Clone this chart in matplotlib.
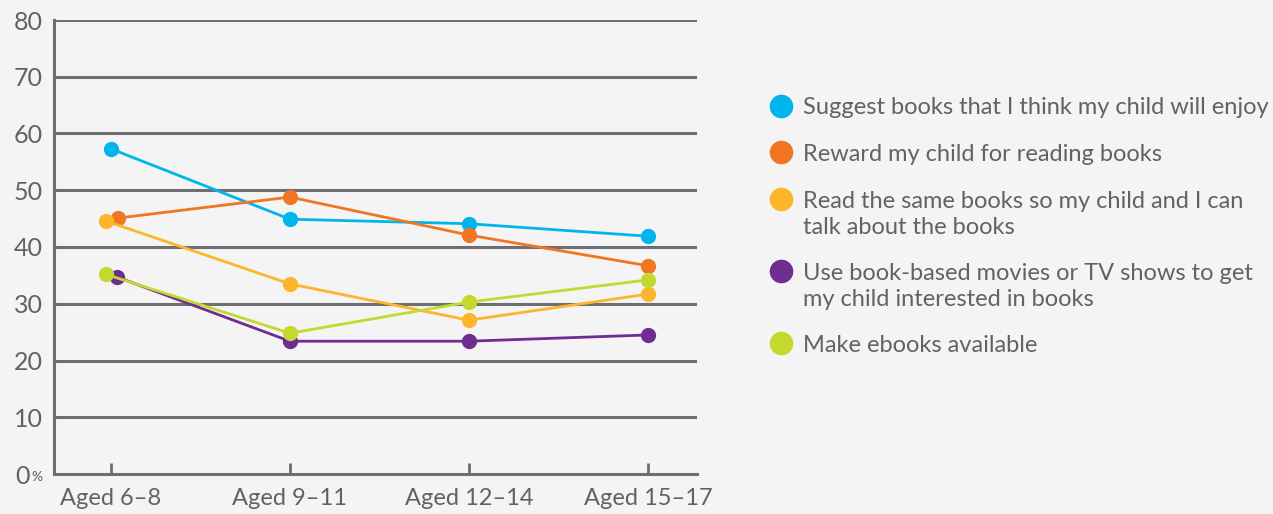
import matplotlib
matplotlib.use("Agg")
import matplotlib.pyplot as plt
from matplotlib.lines import Line2D

plt.rcParams['font.family'] = ['Lato', 'DejaVu Sans']

categories = ["Aged 6\u20138", "Aged 9\u201311", "Aged 12\u201314", "Aged 15\u201317"]
series_labels = [
    "Suggest books that I think my child will enjoy",
    "Reward my child for reading books",
    "Read the same books so my child and I can\ntalk about the books",
    "Use book-based movies or TV shows to get\nmy child interested in books",
    "Make ebooks available",
]
suggest = [57.3, 44.9, 44.1, 41.9]
reward = [45.1, 48.8, 42.1, 36.7]
read_same = [44.6, 33.5, 27.1, 31.7]
movies_tv = [34.7, 23.4, 23.4, 24.5]
ebooks = [35.2, 24.8, 30.3, 34.2]
y_ticks = [0, 10, 20, 30, 40, 50, 60, 70, 80]

series = [suggest, reward, read_same, movies_tv, ebooks]
colors = ["#00B5EC", "#F07622", "#FDB52B", "#6F2C91", "#C4D82E"]
# small horizontal nudge at the first age group so overlapping points stay visible
nudge = [0.0, 0.04, -0.03, 0.035, -0.03]

bg = "#F4F4F4"
grid_c = "#6D6E71"
text_c = "#626262"

W, H = 1273, 514
fig = plt.figure(figsize=(W / 100, H / 100), dpi=100, facecolor=bg)
ax = fig.add_axes([54 / W, 1 - 474 / H, (697 - 54) / W, (474 - 20) / H])
ax.set_facecolor(bg)

for yv in y_ticks[1:]:
    ax.axhline(yv, color=grid_c, lw=2.2, zorder=1)

xs = list(range(len(categories)))
for vals, c, dx in zip(series, colors, nudge):
    px = [x + (dx if i == 0 else 0) for i, x in enumerate(xs)]
    ax.plot(px, vals, color=c, lw=2.0, marker="o", markersize=11,
            markeredgewidth=0, zorder=3, solid_capstyle="round")

ax.set_xlim(-0.318, 3.274)
ax.set_ylim(0, 80)
ax.set_yticks(y_ticks)
ax.set_yticklabels(["" if v == 0 else str(v) for v in y_ticks])
ax.set_xticks(xs)
ax.set_xticklabels(categories)

for s in ["top", "right"]:
    ax.spines[s].set_visible(False)
for s in ["left", "bottom"]:
    ax.spines[s].set_color(grid_c)
    ax.spines[s].set_linewidth(2.2)

ax.tick_params(axis="y", length=0, pad=8, labelsize=18, labelcolor=text_c)
ax.tick_params(axis="x", direction="in", length=8, width=2, color=grid_c,
               pad=10, labelsize=17, labelcolor=text_c)

# zero label with a small percent sign
fig.text(30 / W, 1 - 474 / H, "0", fontsize=18, color=text_c,
         ha="right", va="center_baseline")
fig.text(31 / W, 1 - 481 / H, "%", fontsize=10, color=text_c,
         ha="left", va="baseline")

# legend on the right
leg_y = [106, 152, 199, 271, 343]
for lab, c, yp in zip(series_labels, colors, leg_y):
    fig.add_artist(Line2D([781 / W], [1 - yp / H], marker="o", markersize=17,
                          markeredgewidth=0, color=c, transform=fig.transFigure))
    for k, line in enumerate(lab.split("\n")):
        fig.text(803 / W, 1 - (yp + 26 * k) / H, line, fontsize=17,
                 color=text_c, ha="left", va="center_baseline")

fig.savefig("out.png", dpi=100, facecolor=bg)
